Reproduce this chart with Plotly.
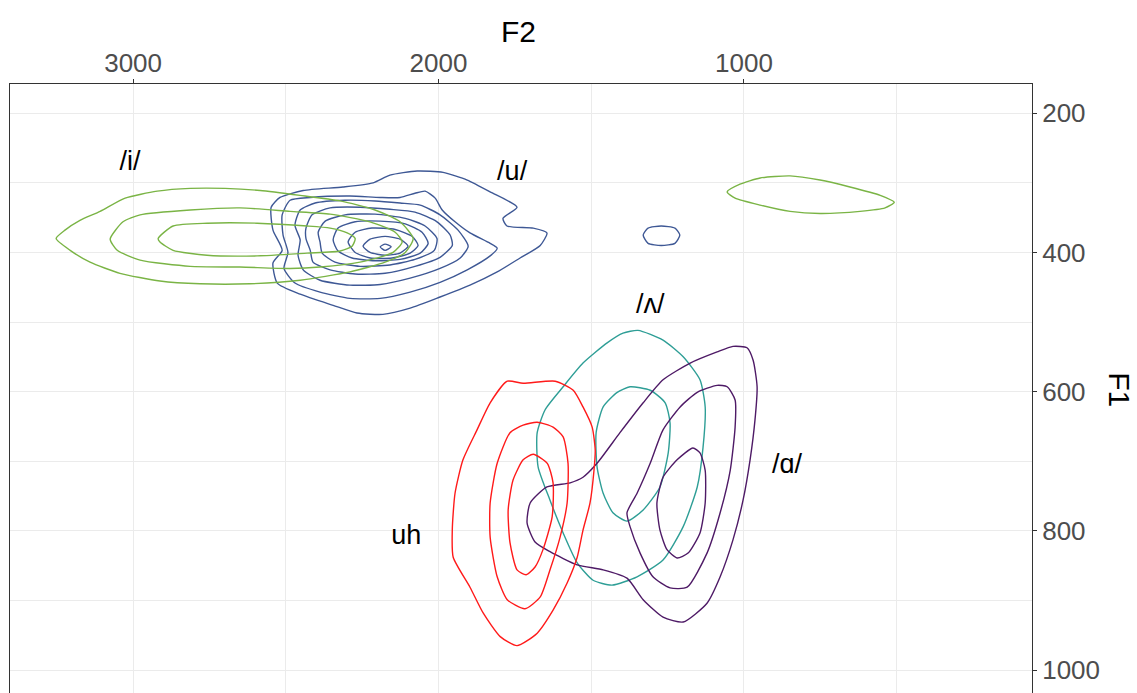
import plotly.graph_objects as go

# ---- density contour lines, F2 (Hz) / F1 (Hz) ----
# /i/
i_outer_f2 = [3252, 3223, 3174, 3108, 3026, 2921, 2813, 2699, 2584, 2453, 2322, 2208, 2126, 2083,
              2109, 2175, 2290, 2453, 2617, 2781, 2912, 3043, 3141, 3206]
i_outer_f1 = [380, 368, 354, 341, 322, 312, 308, 308, 311, 318, 326, 339, 356, 380,
              400, 414, 428, 440, 445, 445, 441, 430, 414, 397]
i_mid_f2 = [3075, 3033, 2977, 2813, 2650, 2486, 2355, 2224, 2142, 2119, 2149, 2257, 2388, 2486,
            2650, 2813, 2977, 3052]
i_mid_f1 = [381, 356, 346, 339, 336, 341, 345, 356, 371, 385, 400, 414, 421, 423,
            421, 420, 411, 397]
i_inner_f2 = [2918, 2869, 2758, 2594, 2430, 2355, 2299, 2273, 2283, 2322, 2430, 2594, 2758, 2869, 2912]
i_inner_f1 = [380, 362, 358, 358, 362, 365, 372, 380, 391, 398, 401, 405, 404, 397, 385]
i_far_f2 = [1055, 1013, 947, 849, 751, 653, 554, 508, 538, 620, 751, 849, 947, 1029]
i_far_f1 = [313, 302, 293, 290, 296, 306, 318, 328, 336, 341, 344, 341, 332, 322]

# /u/
u_r8_f2 = [2214, 2159, 2070, 1985, 1906, 1831, 1743, 1789, 1776, 1690, 1645, 1667, 1733, 1808,
           1897, 1995, 2093, 2182, 2267, 2345, 2453, 2528, 2542, 2512, 2542, 2548, 2519, 2443, 2313]
u_r8_f1 = [300, 289, 283, 285, 296, 313, 335, 351, 362, 365, 372, 390, 408, 428,
           447, 464, 480, 489, 487, 476, 460, 444, 415, 397, 368, 335, 321, 311, 306]
u_r7_f2 = [2512, 2486, 2420, 2290, 2191, 2126, 2077, 2044, 2011, 1988, 1946, 1897, 1831, 1808,
           1831, 1906, 1995, 2093, 2191, 2290, 2388, 2470, 2506, 2493, 2509]
u_r7_f1 = [346, 325, 321, 319, 321, 321, 315, 312, 322, 339, 356, 372, 387, 394,
           405, 425, 443, 457, 466, 466, 457, 444, 423, 400, 375]
u_r6_f2 = [2470, 2453, 2404, 2306, 2208, 2126, 2060, 1995, 1936, 1903, 1929, 1995, 2093, 2191,
           2290, 2388, 2443, 2460, 2453]
u_r6_f1 = [361, 339, 329, 325, 326, 329, 332, 346, 368, 391, 408, 423, 437, 446,
           447, 440, 425, 404, 382]
u_r5_f2 = [2434, 2414, 2355, 2257, 2159, 2077, 2005, 1962, 1955, 1995, 2077, 2175, 2273, 2355,
           2411, 2420, 2434]
u_r5_f1 = [365, 346, 336, 335, 338, 342, 356, 375, 390, 407, 420, 430, 431, 425, 414, 397, 380]
u_r4_f2 = [2394, 2371, 2306, 2208, 2109, 2044, 2005, 2014, 2077, 2159, 2257, 2339, 2381, 2388]
u_r4_f1 = [371, 355, 346, 345, 351, 362, 380, 397, 410, 418, 420, 414, 401, 385]
u_r3_f2 = [2345, 2329, 2273, 2191, 2109, 2054, 2034, 2060, 2126, 2208, 2283, 2329]
u_r3_f1 = [382, 365, 356, 355, 359, 371, 387, 401, 410, 412, 408, 398]
u_r2_f2 = [2296, 2273, 2218, 2142, 2086, 2067, 2093, 2152, 2224, 2273]
u_r2_f1 = [385, 371, 365, 367, 377, 390, 401, 408, 408, 400]
u_r1_f2 = [2247, 2224, 2175, 2126, 2100, 2126, 2175, 2224]
u_r1_f1 = [391, 381, 377, 381, 391, 401, 404, 400]
u_r0_f2 = [2191, 2175, 2155, 2175]
u_r0_f1 = [392, 388, 392, 397]
u_far_f2 = [1330, 1314, 1271, 1226, 1210, 1226, 1271, 1314]
u_far_f1 = [375, 365, 362, 365, 375, 387, 390, 387]

# uh
uh_outer_f2 = [1775, 1723, 1618, 1559, 1527, 1497, 1487, 1491, 1504, 1527, 1546, 1579, 1625, 1677,
               1743, 1798, 1854, 1897, 1952, 1955, 1946, 1920, 1874, 1831]
uh_outer_f1 = [585, 588, 585, 598, 622, 651, 684, 713, 760, 799, 838, 875, 914, 947,
               965, 952, 918, 881, 838, 799, 746, 698, 655, 616]
uh_mid_f2 = [1677, 1625, 1592, 1576, 1579, 1602, 1635, 1667, 1717, 1775, 1808, 1831, 1831, 1808,
             1766, 1723]
uh_mid_f1 = [644, 651, 665, 703, 760, 809, 856, 895, 912, 899, 866, 809, 760, 703, 659, 648]
uh_inner_f2 = [1690, 1644, 1625, 1628, 1658, 1684, 1713, 1743, 1766, 1772, 1756, 1723]
uh_inner_f1 = [690, 703, 731, 780, 827, 852, 863, 856, 817, 770, 727, 698]

# /ʌ/
v_outer_f2 = [1347, 1265, 1199, 1144, 1127, 1134, 1153, 1199, 1265, 1350, 1432, 1494, 1546, 1592,
              1635, 1674, 1677, 1651, 1592, 1527, 1448, 1396]
v_outer_f1 = [512, 526, 550, 583, 622, 680, 737, 794, 842, 866, 878, 871, 846, 803,
              756, 708, 659, 626, 593, 559, 530, 516]
v_inner_f2 = [1373, 1307, 1258, 1242, 1248, 1275, 1330, 1383, 1429, 1461, 1481, 1484, 1461, 1415]
v_inner_f1 = [593, 598, 616, 645, 688, 737, 770, 786, 774, 746, 708, 659, 622, 601]

# /ɑ/
a_outer_f2 = [1036, 990, 970, 957, 964, 980, 1003, 1036, 1078, 1121, 1199, 1265, 1330, 1383,
              1461, 1546, 1635, 1684, 1710, 1700, 1645, 1569, 1527, 1481, 1406, 1330, 1265, 1176, 1088]
a_outer_f1 = [535, 537, 555, 593, 641, 698, 756, 813, 866, 904, 931, 924, 899, 868,
              856, 849, 830, 816, 789, 760, 737, 731, 723, 703, 659, 616, 583, 559, 543]
a_mid_f2 = [1088, 1055, 1029, 1029, 1045, 1078, 1121, 1186, 1242, 1298, 1340, 1373, 1383, 1350,
            1307, 1265, 1209, 1153]
a_mid_f1 = [591, 593, 612, 651, 713, 774, 832, 881, 882, 866, 832, 794, 774, 746,
            703, 655, 622, 601]
a_inner_f2 = [1167, 1144, 1127, 1127, 1144, 1183, 1219, 1252, 1275, 1285, 1265, 1219]
a_inner_f1 = [681, 688, 713, 760, 803, 832, 839, 827, 799, 760, 723, 698]

# vowel labels
label_text = ["/i/", "/u/", "/ʌ/", "/ɑ/", "uh"]
label_f2 = [3010, 1759, 1307, 859, 2106]
label_f1 = [272, 286, 477, 707, 809]

GREEN = "#7AB445"
BLUE = "#3E5895"
TEAL = "#2E9E96"
PURPLE = "#4E1A66"
RED = "#FF1A1A"

FONT = "Liberation Sans, Arial, sans-serif"

contours = [
    (u_r8_f2, u_r8_f1, BLUE), (u_r7_f2, u_r7_f1, BLUE), (u_r6_f2, u_r6_f1, BLUE),
    (u_r5_f2, u_r5_f1, BLUE), (u_r4_f2, u_r4_f1, BLUE), (u_r3_f2, u_r3_f1, BLUE),
    (u_r2_f2, u_r2_f1, BLUE), (u_r1_f2, u_r1_f1, BLUE), (u_r0_f2, u_r0_f1, BLUE),
    (u_far_f2, u_far_f1, BLUE),
    (i_outer_f2, i_outer_f1, GREEN), (i_mid_f2, i_mid_f1, GREEN),
    (i_inner_f2, i_inner_f1, GREEN), (i_far_f2, i_far_f1, GREEN),
    (v_outer_f2, v_outer_f1, TEAL), (v_inner_f2, v_inner_f1, TEAL),
    (a_outer_f2, a_outer_f1, PURPLE), (a_mid_f2, a_mid_f1, PURPLE), (a_inner_f2, a_inner_f1, PURPLE),
    (uh_outer_f2, uh_outer_f1, RED), (uh_mid_f2, uh_mid_f1, RED), (uh_inner_f2, uh_inner_f1, RED),
]

fig = go.Figure()
for xs, ys, col in contours:
    fig.add_trace(go.Scatter(
        x=list(xs) + [xs[0]], y=list(ys) + [ys[0]], mode="lines",
        line=dict(color=col, width=1.4, shape="spline", smoothing=0.6),
        showlegend=False, hoverinfo="skip",
    ))

fig.add_trace(go.Scatter(
    x=label_f2, y=label_f1, mode="text", text=label_text,
    textfont=dict(family=FONT, size=27, color="black"),
    showlegend=False, hoverinfo="skip",
))

grid = "#EBEBEB"
axis_common = dict(
    showgrid=True, gridcolor=grid, gridwidth=1, zeroline=False,
    showline=True, linecolor="#333333", linewidth=1,
    ticks="outside", ticklen=4, tickcolor="#333333", tickwidth=1,
    tickfont=dict(family=FONT, size=26, color="#4D4D4D"),
)

fig.update_layout(
    width=1137, height=693,
    margin=dict(l=10, r=105, t=84, b=0),
    plot_bgcolor="white", paper_bgcolor="white",
    xaxis=dict(range=[3403, 57], side="top", tickvals=[1000, 2000, 3000], ticklabelstandoff=-3,
               minor=dict(tickvals=[500, 1500, 2500], showgrid=True, gridcolor=grid, gridwidth=1, ticks=""),
               **axis_common),
    yaxis=dict(range=[1033, 158], side="right", tickvals=[200, 400, 600, 800, 1000],
               minor=dict(tickvals=[300, 500, 700, 900], showgrid=True, gridcolor=grid, gridwidth=1, ticks=""),
               mirror=True, **axis_common),
    annotations=[
        dict(text="F2", xref="paper", yref="paper", x=0.498, y=1.087, showarrow=False,
             xanchor="center", yanchor="middle",
             font=dict(family=FONT, size=30, color="black")),
        dict(text="F1", xref="paper", yref="paper", x=1.086, y=0.4975, showarrow=False,
             textangle=90, xanchor="center", yanchor="middle",
             font=dict(family=FONT, size=30, color="black")),
    ],
)

fig.write_html("out.html")
